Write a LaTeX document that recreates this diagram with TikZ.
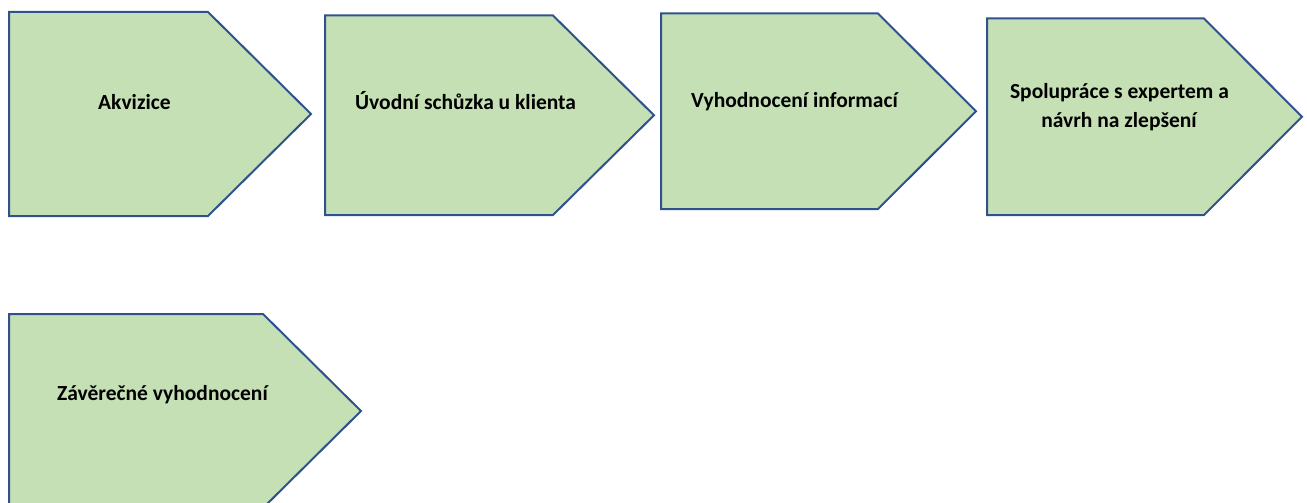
\documentclass[tikz,border=0pt]{standalone}
\usepackage{fontspec}
\setmainfont{Carlito}
\definecolor{plategreen}{HTML}{C5E0B4}
\definecolor{plateblue}{HTML}{2F528F}
\newcommand\homeplate[6]{% name, left, top, bottom, corner x, tip x
  \path[plate] (#2,#3) -- (#5,#3) -- (#6,{(#3+#4)/2}) -- (#5,#4) -- (#2,#4) -- cycle;
  \coordinate (#1) at (#6,{(#3+#4)/2});
}
\begin{document}
\begin{tikzpicture}[x=1pt,y=-1pt,
  plate/.style={fill=plategreen,draw=plateblue,line width=2pt,line join=miter},
  lbl/.style={inner sep=0pt,font=\fontsize{21.5}{28}\selectfont\bfseries,text=black}]
\useasboundingbox (0,0) rectangle (1307,503);
\begin{scope}
\clip (0,0) rectangle (1307,503);
\homeplate{p1}{9}{12}{216}{208}{311}
\homeplate{p2}{325}{15.5}{215}{553}{654}
\homeplate{p3}{661}{13.5}{209}{878}{976}
\homeplate{p4}{987}{18.5}{215}{1204}{1302}
\homeplate{p5}{9}{314}{508}{263}{361}
\end{scope}
\node[lbl,anchor=base west] (t1) at (98,109.5) {Akvizice};
\node[lbl,anchor=base west] (t2) at (355,110) {Úvodní schůzka u klienta};
\node[lbl,anchor=base west] (t3) at (691,107) {Vyhodnocení informací};
\node[lbl,anchor=base] (t4a) at (1119.5,98.5) {Spolupráce s expertem a};
\node[lbl,anchor=base] (t4b) at (1119,127.5) {návrh na zlepšení};
\node[lbl,anchor=base west] (t5) at (57,400) {Závěrečné vyhodnocení};
\end{tikzpicture}
\end{document}
